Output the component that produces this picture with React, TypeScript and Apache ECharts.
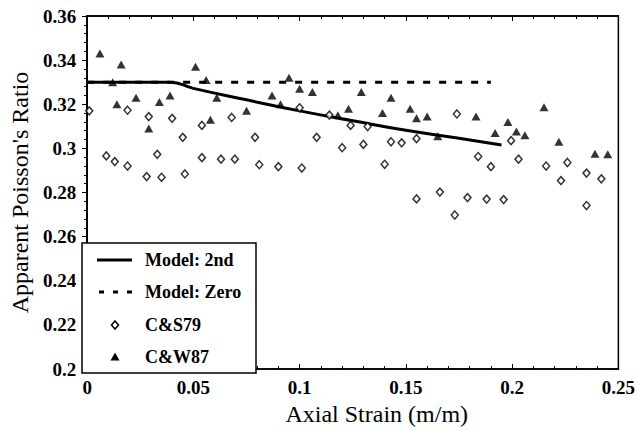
import React, { useEffect, useRef } from "react";
import * as echarts from "echarts";

const xTickLabels = ["0", "0.05", "0.1", "0.15", "0.2", "0.25"];
const yTickLabels = ["0.2", "0.22", "0.24", "0.26", "0.28", "0.3", "0.32", "0.34", "0.36"];

const seriesNames = ["Model: 2nd", "Model: Zero", "C&S79", "C&W87"];

const model2X = [0, 0.039, 0.05, 0.075, 0.1, 0.125, 0.15, 0.175, 0.195];
const model2Y = [0.33, 0.33, 0.3272, 0.322, 0.317, 0.3125, 0.3082, 0.3046, 0.3015];

const modelZeroX = [0, 0.19];
const modelZeroY = [0.33, 0.33];

const cs79X = [
  0.001, 0.009, 0.013, 0.019, 0.019, 0.028, 0.029, 0.033, 0.035, 0.04, 0.045, 0.046,
  0.054, 0.054, 0.063, 0.068, 0.0695, 0.079, 0.081, 0.09, 0.1, 0.101, 0.108, 0.114,
  0.12, 0.124, 0.13, 0.132, 0.14, 0.143, 0.148, 0.155, 0.155, 0.166, 0.173, 0.174,
  0.179, 0.184, 0.188, 0.19, 0.196, 0.1995, 0.203, 0.216, 0.223, 0.226, 0.235, 0.235, 0.242,
];
const cs79Y = [
  0.317, 0.2966, 0.294, 0.3173, 0.292, 0.2872, 0.3144, 0.2973, 0.2869, 0.3136, 0.305, 0.2884,
  0.3104, 0.2958, 0.2951, 0.314, 0.2951, 0.305, 0.2926, 0.2917, 0.3184, 0.2911, 0.305, 0.3151,
  0.3003, 0.3104, 0.3018, 0.3099, 0.2928, 0.303, 0.3025, 0.3044, 0.2771, 0.2802, 0.2698, 0.3156,
  0.2777, 0.2963, 0.277, 0.2917, 0.2768, 0.3035, 0.2951, 0.292, 0.2854, 0.2936, 0.2888, 0.2741, 0.2862,
];

const cw87X = [
  0.006, 0.012, 0.014, 0.016, 0.023, 0.029, 0.034, 0.039, 0.051, 0.056, 0.061, 0.058,
  0.075, 0.087, 0.091, 0.095, 0.1, 0.106, 0.118, 0.123, 0.129, 0.139, 0.143, 0.152,
  0.155, 0.16, 0.165, 0.183, 0.192, 0.198, 0.202, 0.206, 0.215, 0.222, 0.239, 0.245,
];
const cw87Y = [
  0.343, 0.33, 0.32, 0.338, 0.323, 0.309, 0.321, 0.324, 0.337, 0.331, 0.323, 0.313,
  0.317, 0.324, 0.32, 0.332, 0.327, 0.3255, 0.315, 0.318, 0.3255, 0.316, 0.323, 0.318,
  0.3136, 0.3144, 0.3055, 0.3144, 0.307, 0.312, 0.3077, 0.306, 0.3186, 0.303, 0.2976, 0.2973,
];

const zip = (xs: number[], ys: number[]) => xs.map((x, i) => [x, ys[i]]);
const fmt = (v: number) => String(parseFloat(v.toFixed(3)));

const FONT = "Liberation Serif";

// legend layout
const LEG_LEFT = 82;
const LEG_TOP = 243;
const LEG_W = 174;
const LEG_H = 130;
const LEG_ROWS = [260, 292, 325, 357];
const ICON_X0 = 97;
const ICON_X1 = 132;
const ICON_CX = 115;
const TEXT_X = 145;

export default function App() {
  const ref = useRef<HTMLDivElement>(null);
  useEffect(() => {
    if (!ref.current) return;
    const chart = echarts.init(ref.current, undefined, { renderer: "svg" });
    const tickLabelStyle = {
      fontFamily: FONT,
      fontSize: 19,
      fontWeight: "bold" as const,
      color: "#000",
    };
    const legendText = (i: number) => ({
      type: "text",
      x: TEXT_X,
      y: LEG_ROWS[i],
      z: 101,
      style: {
        text: seriesNames[i],
        fontFamily: FONT,
        fontSize: 18,
        fontWeight: "bold",
        fill: "#000",
        verticalAlign: "middle",
        align: "left",
      },
    });
    chart.setOption({
      animation: false,
      backgroundColor: "#fff",
      grid: {
        left: 82,
        right: 19,
        top: 16,
        bottom: 58,
        show: true,
        borderColor: "#000",
        borderWidth: 1.5,
      },
      xAxis: [
        {
          type: "value",
          min: 0,
          max: 0.25,
          interval: 0.05,
          name: "Axial Strain (m/m)",
          nameLocation: "middle",
          nameGap: 33,
          nameTextStyle: { fontFamily: FONT, fontSize: 24, color: "#000", padding: [0, 0, 0, 48] },
          axisLine: { lineStyle: { color: "#000", width: 1.5 } },
          axisTick: { inside: true, length: 5, lineStyle: { color: "#000", width: 1 } },
          minorTick: { show: true, splitNumber: 5, length: 3, lineStyle: { color: "#000" } },
          axisLabel: { ...tickLabelStyle, margin: 9, formatter: (v: number) => fmt(v) },
          splitLine: { show: false },
        },
        {
          type: "value",
          position: "top",
          min: 0,
          max: 0.25,
          interval: 0.05,
          axisLine: { lineStyle: { color: "#000", width: 1.5 } },
          axisTick: { inside: true, length: 5, lineStyle: { color: "#000" } },
          minorTick: { show: true, splitNumber: 5, length: 3, lineStyle: { color: "#000" } },
          axisLabel: { show: false },
          splitLine: { show: false },
        },
      ],
      yAxis: [
        {
          type: "value",
          min: 0.2,
          max: 0.36,
          interval: 0.02,
          name: "Apparent Poisson's Ratio",
          nameLocation: "middle",
          nameGap: 49,
          nameTextStyle: { fontFamily: FONT, fontSize: 24, color: "#000" },
          axisLine: { lineStyle: { color: "#000", width: 1.5 } },
          axisTick: { inside: false, length: 5, lineStyle: { color: "#000" } },
          minorTick: { show: true, splitNumber: 5, length: 3, lineStyle: { color: "#000" } },
          axisLabel: { ...tickLabelStyle, margin: 11, formatter: (v: number) => fmt(v) },
          splitLine: { show: false },
        },
        {
          type: "value",
          position: "right",
          min: 0.2,
          max: 0.36,
          interval: 0.02,
          axisLine: { lineStyle: { color: "#000", width: 1.5 } },
          axisTick: { inside: true, length: 5, lineStyle: { color: "#000" } },
          minorTick: { show: true, splitNumber: 5, length: 3, lineStyle: { color: "#000" } },
          axisLabel: { show: false },
          splitLine: { show: false },
        },
      ],
      graphic: [
        {
          type: "rect",
          z: 100,
          shape: { x: LEG_LEFT, y: LEG_TOP, width: LEG_W, height: LEG_H },
          style: { fill: "#fff", stroke: "#000", lineWidth: 1.5 },
        },
        {
          type: "line",
          z: 101,
          shape: { x1: ICON_X0, y1: LEG_ROWS[0], x2: ICON_X1, y2: LEG_ROWS[0] },
          style: { stroke: "#000", lineWidth: 3 },
        },
        {
          type: "line",
          z: 101,
          shape: { x1: ICON_X0 + 2, y1: LEG_ROWS[1], x2: ICON_X1, y2: LEG_ROWS[1] },
          style: { stroke: "#000", lineWidth: 3, lineDash: [5, 9] },
        },
        {
          type: "polygon",
          z: 101,
          shape: {
            points: [
              [ICON_CX, LEG_ROWS[2] - 4],
              [ICON_CX + 3.5, LEG_ROWS[2]],
              [ICON_CX, LEG_ROWS[2] + 4],
              [ICON_CX - 3.5, LEG_ROWS[2]],
            ],
          },
          style: { fill: "#fff", stroke: "#000", lineWidth: 1.5 },
        },
        {
          type: "polygon",
          z: 101,
          shape: {
            points: [
              [ICON_CX, LEG_ROWS[3] - 4.5],
              [ICON_CX + 4.5, LEG_ROWS[3] + 3.5],
              [ICON_CX - 4.5, LEG_ROWS[3] + 3.5],
            ],
          },
          style: { fill: "#000" },
        },
        legendText(0),
        legendText(1),
        legendText(2),
        legendText(3),
      ],
      series: [
        {
          name: seriesNames[0],
          type: "line",
          data: zip(model2X, model2Y),
          symbol: "none",
          smooth: true,
          lineStyle: { color: "#000", width: 3 },
          z: 3,
        },
        {
          name: seriesNames[1],
          type: "line",
          data: zip(modelZeroX, modelZeroY),
          symbol: "none",
          lineStyle: { color: "#000", width: 3, type: [7, 9] },
          z: 2,
        },
        {
          name: seriesNames[2],
          type: "scatter",
          data: zip(cs79X, cs79Y),
          symbol: "diamond",
          symbolSize: [7, 8],
          itemStyle: { color: "#fff", borderColor: "#000", borderWidth: 1.5 },
          z: 4,
        },
        {
          name: seriesNames[3],
          type: "scatter",
          data: zip(cw87X, cw87Y),
          symbol: "triangle",
          symbolSize: [9, 8],
          itemStyle: { color: "#000" },
          z: 5,
        },
      ],
    });
    return () => chart.dispose();
  }, []);
  return (
    <div
      ref={ref}
      style={{ position: "fixed", left: 0, top: 0, width: 638, height: 431, background: "#fff" }}
    />
  );
}
